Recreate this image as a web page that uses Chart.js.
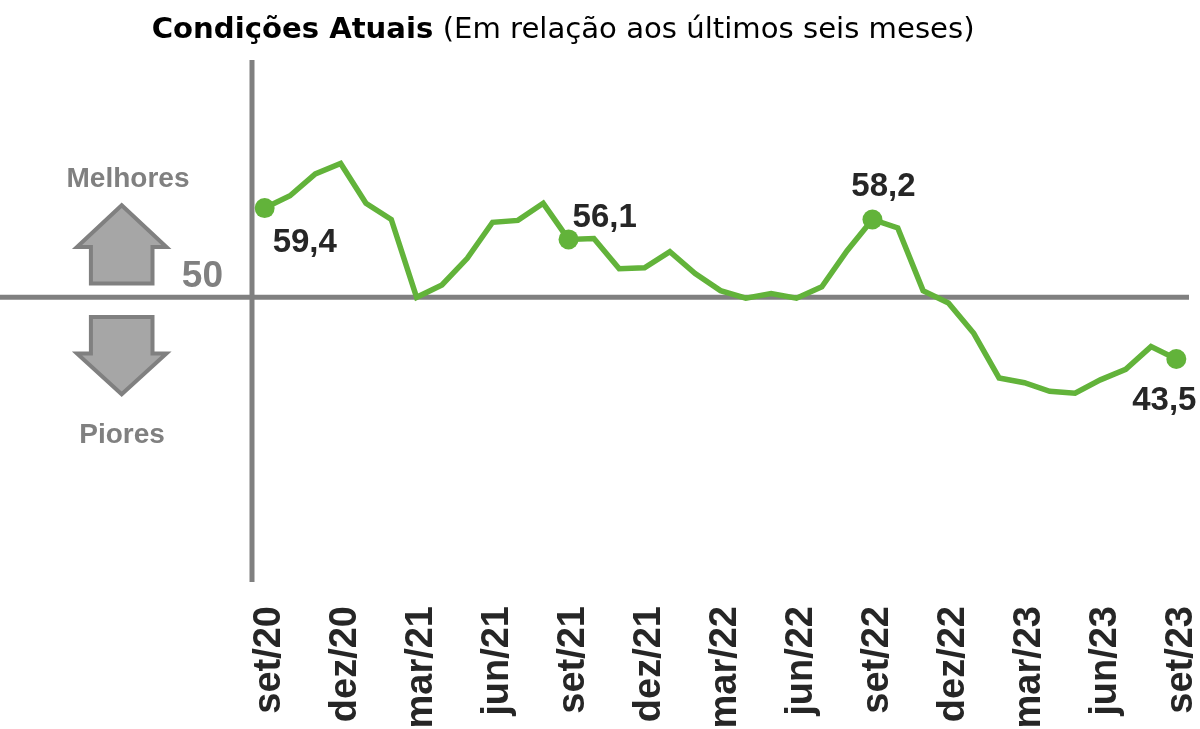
<!DOCTYPE html>
<html>
<head>
<meta charset="utf-8">
<script src="https://cdn.jsdelivr.net/npm/chart.js@4/dist/chart.umd.min.js"></script>
<style>
  html, body { margin: 0; padding: 0; background: #ffffff; }
  #wrap { width: 1200px; height: 729px; position: relative; }
</style>
</head>
<body>
<div id="wrap"><canvas id="c"></canvas></div>
<script>
// ---- data ----
const months = [
  'set/20','out/20','nov/20','dez/20','jan/21','fev/21','mar/21','abr/21','mai/21','jun/21','jul/21','ago/21',
  'set/21','out/21','nov/21','dez/21','jan/22','fev/22','mar/22','abr/22','mai/22','jun/22','jul/22','ago/22',
  'set/22','out/22','nov/22','dez/22','jan/23','fev/23','mar/23','abr/23','mai/23','jun/23','jul/23','ago/23',
  'set/23'
];
const values = [
  59.4, 60.7, 63.0, 64.1, 59.9, 58.2, 50.0, 51.3, 54.1, 57.9, 58.1, 59.9,
  56.1, 56.2, 53.0, 53.1, 54.8, 52.5, 50.7, 49.9, 50.4, 49.9, 51.1, 54.9,
  58.2, 57.3, 50.7, 49.4, 46.2, 41.5, 41.0, 40.1, 39.9, 41.3, 42.4, 44.8,
  43.5
];
const highlighted = [0, 12, 24, 36];
const tickEvery = 3;
const baseline = 50;
const titleBold = 'Condições Atuais';
const titleRest = ' (Em relação aos últimos seis meses)';
const upText = 'Melhores';
const downText = 'Piores';

// ---- styles ----
const GREEN = '#62b33a';
const GRAY = '#808080';
const ARROW_FILL = '#a6a6a6';
const DARK = '#262626';
const LBL_FONT = 'bold 33px "Liberation Sans", Arial, sans-serif';
// label offsets relative to marker (dx, dy of text center, align)
const labelPlace = {
  0:  {dx: 8,   dy: 32,  align: 'left'},
  12: {dx: 4,   dy: -24, align: 'left'},
  24: {dx: 11,  dy: -35, align: 'center'},
  36: {dx: -12, dy: 39,  align: 'center'}
};

const fmt = v => v.toFixed(1).replace('.', ',');

const decor = {
  id: 'decor',
  beforeDatasetsDraw(chart) {
    const {ctx, chartArea: a, scales: {y}} = chart;
    const y50 = y.getPixelForValue(baseline);
    ctx.save();
    ctx.strokeStyle = GRAY;
    ctx.lineWidth = 5;
    ctx.lineCap = 'butt';
    ctx.beginPath(); ctx.moveTo(0, y50); ctx.lineTo(a.right, y50); ctx.stroke();
    ctx.beginPath(); ctx.moveTo(a.left, a.top); ctx.lineTo(a.left, a.bottom); ctx.stroke();

    // arrows
    const cx = 121.7, wing = 44.7, shaft = 30.8;
    ctx.fillStyle = ARROW_FILL;
    ctx.lineWidth = 4;
    ctx.lineJoin = 'miter';
    // up
    ctx.beginPath();
    ctx.moveTo(cx, y50 - 92);
    ctx.lineTo(cx + wing, y50 - 50.3);
    ctx.lineTo(cx + shaft, y50 - 50.3);
    ctx.lineTo(cx + shaft, y50 - 13.7);
    ctx.lineTo(cx - shaft, y50 - 13.7);
    ctx.lineTo(cx - shaft, y50 - 50.3);
    ctx.lineTo(cx - wing, y50 - 50.3);
    ctx.closePath();
    ctx.fill(); ctx.stroke();
    // down
    ctx.beginPath();
    ctx.moveTo(cx, y50 + 97);
    ctx.lineTo(cx + wing, y50 + 56.3);
    ctx.lineTo(cx + shaft, y50 + 56.3);
    ctx.lineTo(cx + shaft, y50 + 19.7);
    ctx.lineTo(cx - shaft, y50 + 19.7);
    ctx.lineTo(cx - shaft, y50 + 56.3);
    ctx.lineTo(cx - wing, y50 + 56.3);
    ctx.closePath();
    ctx.fill(); ctx.stroke();

    // side texts
    ctx.fillStyle = GRAY;
    ctx.textBaseline = 'alphabetic';
    ctx.font = 'bold 28px "Liberation Sans", Arial, sans-serif';
    ctx.textAlign = 'center';
    ctx.fillText(upText, 128, y50 - 120 + 0.358 * 28);
    ctx.fillText(downText, 122, y50 + 136 + 0.358 * 28);
    ctx.font = 'bold 37px "Liberation Sans", Arial, sans-serif';
    ctx.textAlign = 'right';
    ctx.fillText(String(baseline), 223, y50 - 10.3);

    // title
    const boldF = s => `bold ${s}px "DejaVu Sans", Verdana, sans-serif`;
    const regF = s => `${s}px "DejaVu Sans", Verdana, sans-serif`;
    ctx.font = boldF(100); const wb = ctx.measureText(titleBold).width;
    ctx.font = regF(100); const wr = ctx.measureText(titleRest).width;
    const size = 100 * 823 / (wb + wr);
    const x0 = 151.7;
    ctx.fillStyle = '#000000';
    ctx.textAlign = 'left';
    ctx.font = boldF(size); ctx.fillText(titleBold, x0, 38);
    ctx.font = regF(size); ctx.fillText(titleRest, x0 + wb * size / 100, 38);
    ctx.restore();
  },
  afterDatasetsDraw(chart) {
    const {ctx} = chart;
    const meta = chart.getDatasetMeta(0);
    ctx.save();
    ctx.fillStyle = DARK;
    ctx.font = LBL_FONT;
    ctx.textBaseline = 'alphabetic';
    highlighted.forEach(i => {
      const pt = meta.data[i];
      const p = labelPlace[i] || {dx: 0, dy: -30, align: 'center'};
      ctx.textAlign = p.align;
      ctx.fillText(fmt(values[i]), pt.x + p.dx, pt.y + p.dy + 0.358 * 33);
    });
    ctx.restore();
  }
};

new Chart(document.getElementById('c'), {
  type: 'line',
  data: {
    labels: months,
    datasets: [{
      data: values,
      borderColor: GREEN,
      backgroundColor: GREEN,
      borderWidth: 5.5,
      tension: 0,
      pointRadius: ctx => highlighted.includes(ctx.dataIndex) ? 10 : 0,
      pointHoverRadius: ctx => highlighted.includes(ctx.dataIndex) ? 10 : 0,
      pointBackgroundColor: GREEN,
      pointBorderWidth: 0
    }]
  },
  options: {
    responsive: true,
    maintainAspectRatio: false,
    animation: false,
    events: [],
    layout: { padding: { left: 252, right: 11, top: 60, bottom: 0 } },
    plugins: { legend: { display: false }, tooltip: { enabled: false }, title: { display: false } },
    scales: {
      x: {
        type: 'category',
        offset: true,
        grid: { display: false, drawTicks: false },
        border: { display: false },
        afterFit(scale) {
          scale.height = 147;
          scale.paddingLeft = 0;
          scale.paddingRight = 0;
        },
        ticks: {
          autoSkip: false,
          minRotation: 90,
          maxRotation: 90,
          padding: 24,
          labelOffset: 5,
          color: DARK,
          font: { family: '"Liberation Sans", Arial, sans-serif', size: 38, weight: 'bold' },
          callback: (v, i) => (i % tickEvery === 0 ? months[i] : '')
        }
      },
      y: {
        display: false,
        min: 20,
        max: 75
      }
    }
  },
  plugins: [decor]
});
</script>
</body>
</html>
